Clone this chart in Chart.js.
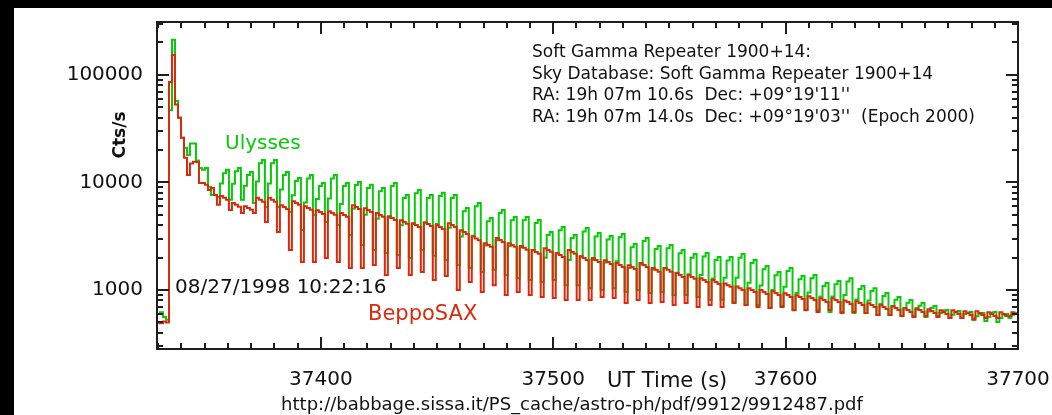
<!DOCTYPE html>
<html><head><meta charset="utf-8">
<script src="https://cdn.jsdelivr.net/npm/chart.js@4"></script>
<style>
html,body{margin:0;padding:0;background:#fff;}
canvas{display:block}
</style></head><body>
<canvas id="c" width="1052" height="415"></canvas>
<script>
// time grid of the light-curve bins (UT seconds)
const binStart = 37329.5;
const binWidth = 1.29;

// Ulysses count rate (Cts/s), one value per bin
const ulysses = [
600, 620, 560, 530, 47000, 212000, 57000, 40000, 26000, 21000,
18000, 23000, 23000, 16000, 13600, 13100, 13600, 9100, 7650, 7650,
7330, 9800, 12200, 13100,
6900, 9700, 12700, 13600,
6900, 9300, 11700, 12500,
6450, 10200, 15100, 16200,
5900, 9800, 15100, 16200,
5900, 8600, 11700, 12500,
5300, 7600, 10300, 11000,
3610, 6500, 10900, 11700,
4990, 7000, 9250, 9900,
4290, 7100, 10900, 11700,
4020, 6300, 9250, 9900,
3250, 5700, 9450, 10100,
2620, 5000, 8900, 9500,
2360, 4600, 8300, 8900,
2210, 4700, 9250, 9900,
2120, 4000, 7150, 7650,
1980, 4100, 7950, 8500,
2360, 4250, 7150, 7650,
2080, 4100, 7500, 8000,
1900, 3800, 7150, 7650,
1710, 3150, 5400, 5800,
1600, 3200, 6000, 6450,
1470, 2600, 4350, 4670,
1540, 2900, 5200, 5550,
1380, 2550, 4450, 4780,
1290, 2500, 4450, 4780,
1240, 2350, 4200, 4480,
1190, 2000, 3250, 3460,
1240, 2200, 3600, 3850,
1110, 1900, 3050, 3250,
1110, 2050, 3500, 3770,
1040, 1900, 3150, 3390,
1000, 1800, 2950, 3180,
1040, 1850, 3100, 3320,
960, 1600, 2500, 2680,
1000, 1750, 2850, 3040,
940, 1550, 2400, 2570,
960, 1600, 2450, 2620,
900, 1450, 2200, 2360,
900, 1400, 2000, 2160,
860, 1380, 2050, 2210,
810, 1280, 1900, 2030,
810, 1300, 1880, 2030,
770, 1300, 2000, 2160,
725, 1170, 1780, 1900,
725, 1100, 1560, 1670,
680, 1000, 1370, 1470,
710, 1070, 1500, 1600,
650, 940, 1260, 1350,
650, 950, 1290, 1380,
650, 870, 1090, 1160,
625, 870, 1130, 1210,
625, 900, 1200, 1290,
610, 815, 1020, 1090,
610, 800, 980, 1040,
585, 740, 880, 938,
585, 710, 810, 860,
573, 680, 760, 807,
573, 660, 715, 757,
561, 630, 680, 710,
573, 610, 640, 652,
549, 590, 620, 638,
549, 600, 615, 624,
526, 570, 600, 611,
515, 560, 610, 624,
504, 550, 590, 598,
549, 590, 611
];

// BeppoSAX count rate (Cts/s), one value per bin
const beppoSAX = [
500, 490, 510, 500, 86000, 153000, 53000, 40000, 26000, 17000,
11700, 15000, 15600, 15500, 9900, 9900, 9500, 8500, 8900, 7650,
6200, 7500, 7200, 6900,
5550, 6450, 6200, 5950,
5200, 6000, 5800, 5570,
5200, 7200, 6900, 6600,
4290, 7200, 6900, 6600,
3460, 6150, 5900, 5650,
2360, 6700, 6450, 6200,
1820, 6000, 5800, 5570,
1820, 5500, 5300, 5100,
1980, 5400, 5200, 5000,
1820, 5200, 4990, 4800,
1600, 6150, 5900, 5650,
1600, 5750, 5550, 5300,
1710, 5200, 4990, 4800,
1380, 4850, 4670, 4480,
1600, 4450, 4290, 4120,
1380, 4180, 4020, 3860,
1470, 4250, 4100, 3940,
1240, 4000, 3850, 3700,
1350, 4180, 4020, 3860,
1000, 3600, 3460, 3320,
1190, 3140, 3020, 2900,
958, 2720, 2620, 2520,
1110, 3040, 2920, 2800,
899, 2720, 2620, 2520,
958, 2570, 2470, 2370,
899, 2350, 2260, 2170,
861, 2450, 2360, 2270,
843, 2200, 2120, 2030,
807, 2350, 2260, 2170,
807, 2060, 1980, 1900,
807, 1980, 1900, 1820,
861, 1890, 1820, 1750,
843, 1780, 1710, 1640,
757, 1700, 1640, 1570,
807, 1780, 1710, 1640,
757, 1600, 1540, 1480,
773, 1600, 1540, 1480,
725, 1440, 1380, 1320,
757, 1370, 1320, 1270,
695, 1290, 1240, 1190,
725, 1240, 1190, 1140,
695, 1150, 1110, 1070,
757, 1080, 1040, 1000,
725, 1040, 1000, 960,
695, 1000, 958, 920,
680, 975, 938, 900,
695, 935, 899, 863,
652, 895, 861, 826,
652, 877, 843, 809,
624, 840, 807, 775,
652, 840, 807, 775,
611, 800, 773, 742,
624, 787, 757, 727,
611, 754, 725, 696,
585, 723, 695, 667,
585, 707, 680, 653,
573, 678, 652, 626,
561, 678, 652, 626,
573, 663, 638, 612,
561, 649, 624, 600,
549, 649, 624, 600,
549, 635, 611, 587,
537, 635, 611, 587,
549, 622, 598, 574,
549, 622, 598, 574,
573, 622, 598
];

const xTickLabels = [37400, 37500, 37600, 37700];
const yTickLabels = [1000, 10000, 100000];
const xRange = [37329.5, 37700];
const yRange = [283, 310000];

const infoLines = [
  'Soft Gamma Repeater 1900+14:',
  'Sky Database: Soft Gamma Repeater 1900+14',
  "RA: 19h 07m 10.6s  Dec: +09\u00b019'11''",
  "RA: 19h 07m 14.0s  Dec: +09\u00b019'03''  (Epoch 2000)"
];
const dateLabel = '08/27/1998 10:22:16';
const xTitle = 'UT Time (s)';
const yTitle = 'Cts/s';
const sourceUrl = 'http://babbage.sissa.it/PS_cache/astro-ph/pdf/9912/9912487.pdf';

const GREEN = '#0ac80a';
const RED = '#da2a0c';
const FONT = '"DejaVu Sans", "Liberation Sans", sans-serif';

function toPoints(arr) {
  const pts = arr.map((v, i) => ({x: binStart + i * binWidth, y: v}));
  pts.push({x: binStart + arr.length * binWidth, y: arr[arr.length - 1]});
  return pts;
}

const framePlugin = {
  id: 'frame',
  beforeDraw(chart) {
    const c = chart.ctx;
    c.save();
    c.fillStyle = '#fff';
    c.fillRect(0, 0, chart.width, chart.height);
    c.fillStyle = '#000';
    c.fillRect(0, 0, chart.width, 8);
    c.fillRect(0, 0, 14, chart.height);
    c.restore();
  },
  afterDraw(chart) {
    const c = chart.ctx, a = chart.chartArea, x = chart.scales.x, y = chart.scales.y;
    c.save();
    c.strokeStyle = '#1e1e1e';
    c.lineWidth = 2;
    c.strokeRect(a.left, a.top, a.right - a.left, a.bottom - a.top);
    c.beginPath();
    for (let t = Math.ceil(xRange[0] / 10) * 10; t < xRange[1]; t += 10) {
      const px = Math.round(x.getPixelForValue(t));
      const len = t % 100 === 0 ? 12 : 6;
      c.moveTo(px, a.bottom); c.lineTo(px, a.bottom - len);
      c.moveTo(px, a.top); c.lineTo(px, a.top + len);
    }
    for (let d = 100; d <= 1e6; d *= 10) {
      for (let m = 1; m <= 9; m++) {
        const v = d * m;
        if (v <= yRange[0] || v >= yRange[1]) continue;
        const py = Math.round(y.getPixelForValue(v));
        const len = m === 1 ? 12 : 6;
        c.moveTo(a.left, py); c.lineTo(a.left + len, py);
        c.moveTo(a.right, py); c.lineTo(a.right - len, py);
      }
    }
    c.stroke();

    c.textBaseline = 'alphabetic';
    c.textAlign = 'left';
    c.fillStyle = '#111';
    c.font = '17px ' + FONT;
    infoLines.forEach((s, i) => c.fillText(s, 532, 57 + i * 21.5));
    c.font = '20px ' + FONT;
    c.fillText(dateLabel, 175, 293);
    c.fillStyle = GREEN;
    c.font = '20px ' + FONT;
    c.fillText('Ulysses', 225, 149);
    c.fillStyle = RED;
    c.font = '21px ' + FONT;
    c.fillText('BeppoSAX', 368, 320);
    c.fillStyle = '#111';
    c.font = '21px ' + FONT;
    c.fillText(xTitle, 607, 387);
    c.font = '18px ' + FONT;
    c.textAlign = 'center';
    c.fillText(sourceUrl, 572, 410);
    c.save();
    c.translate(121, 135);
    c.rotate(-Math.PI / 2);
    c.font = 'bold 17px ' + FONT;
    c.textBaseline = 'middle';
    c.fillText(yTitle, 0, 0);
    c.restore();
    c.restore();
  }
};

new Chart(document.getElementById('c'), {
  type: 'line',
  data: {
    datasets: [
      {label: 'BeppoSAX', data: toPoints(beppoSAX), borderColor: RED, borderWidth: 2,
       pointRadius: 0, stepped: true, fill: false, tension: 0},
      {label: 'Ulysses', data: toPoints(ulysses), borderColor: GREEN, borderWidth: 2,
       pointRadius: 0, stepped: true, fill: false, tension: 0}
    ]
  },
  options: {
    responsive: false,
    animation: false,
    devicePixelRatio: 1,
    layout: {padding: {top: 22, right: 34, left: 0, bottom: 0}},
    plugins: {legend: {display: false}, tooltip: {enabled: false}},
    scales: {
      x: {
        type: 'linear', min: xRange[0], max: xRange[1],
        grid: {display: false, drawTicks: false}, border: {display: false},
        afterBuildTicks: s => { s.ticks = xTickLabels.map(v => ({value: v})); },
        afterFit: s => { s.height = 66; s.paddingLeft = 0; s.paddingRight = 0; },
        ticks: {autoSkip: false, maxRotation: 0, padding: 19, color: '#111',
                font: {family: FONT, size: 20}, callback: v => String(v)}
      },
      y: {
        type: 'logarithmic', min: yRange[0], max: yRange[1],
        grid: {display: false, drawTicks: false}, border: {display: false},
        afterBuildTicks: s => { s.ticks = yTickLabels.map(v => ({value: v})); },
        afterFit: s => { s.width = 157; s.paddingTop = 0; s.paddingBottom = 0; },
        ticks: {autoSkip: false, padding: 14, color: '#111',
                font: {family: FONT, size: 20}, callback: v => String(v)}
      }
    }
  },
  plugins: [framePlugin]
});
</script>
</body></html>
